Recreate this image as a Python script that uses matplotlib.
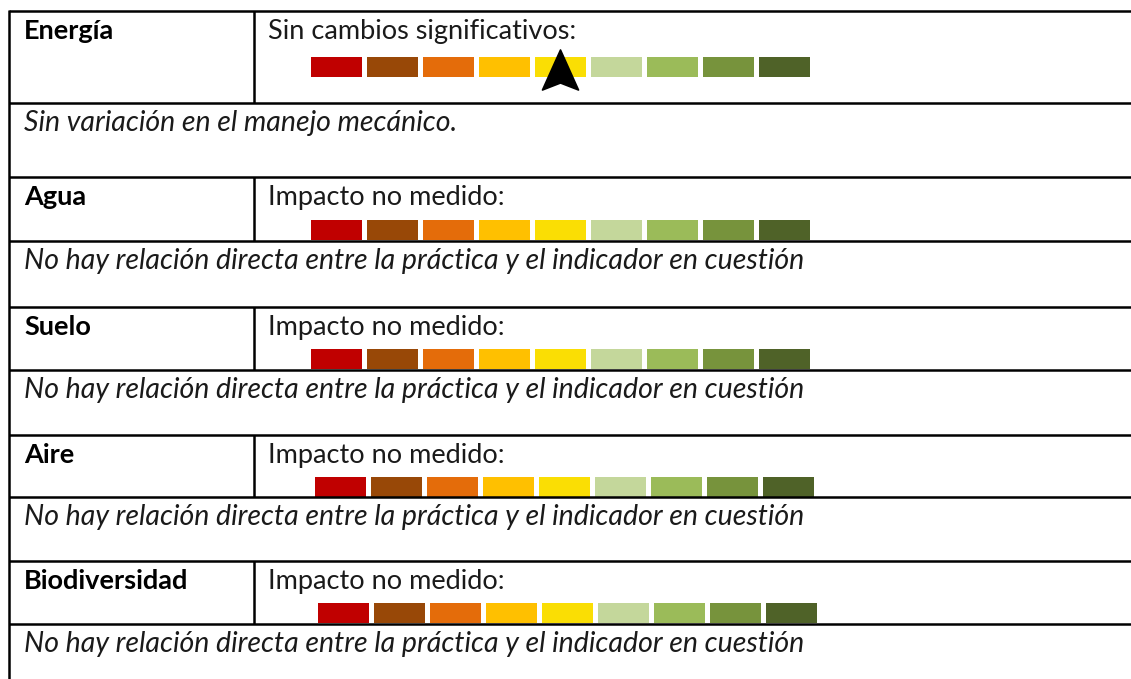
import matplotlib
matplotlib.use("Agg")
import matplotlib.pyplot as plt
from matplotlib.patches import Rectangle, Polygon

# ---------------- data ----------------
indicators = ["Energía", "Agua", "Suelo", "Aire", "Biodiversidad"]
statuses = ["Sin cambios significativos:", "Impacto no medido:", "Impacto no medido:",
            "Impacto no medido:", "Impacto no medido:"]
descriptions = [
    "Sin variación en el manejo mecánico.",
    "No hay relación directa entre la práctica y el indicador en cuestión",
    "No hay relación directa entre la práctica y el indicador en cuestión",
    "No hay relación directa entre la práctica y el indicador en cuestión",
    "No hay relación directa entre la práctica y el indicador en cuestión",
]
scale_colors = ["#C00000", "#984807", "#E46C0A", "#FFC000", "#FADE04",
                "#C4D79B", "#9BBB59", "#77933C", "#4F6228"]
marker_index = [4, None, None, None, None]

# ---------------- layout (pixels) ----------------
W, H = 1131, 679
left_x = 9
div_x = 254
header_top = [11, 177, 307, 435, 561]
header_bot = [103, 241, 370, 497, 624]
bar_top = [57, 220, 349, 477, 603]
bar_x0 = [311, 311, 311, 315, 318]
bar_w, bar_gap, bar_h = 51, 5, 19.5
label_x = 24
status_x = 268
line_lw = 1.8
FONT = "Lato"

fig = plt.figure(figsize=(W / 100, H / 100), dpi=100)
fig.patch.set_facecolor("white")
ax = fig.add_axes([0, 0, 1, 1])
ax.set_xlim(0, W)
ax.set_ylim(H, 0)
ax.axis("off")

renderer = fig.canvas.get_renderer()


def fit_size(text, target, **kw):
    t = ax.text(0, 0, text, fontsize=20, family=FONT, **kw)
    w = t.get_window_extent(renderer).width
    t.remove()
    return 20 * target / w


fs_bold = fit_size("Biodiversidad", 165, fontweight="bold")
fs_reg = fit_size("Sin cambios significativos:", 309)
fs_it = fit_size(descriptions[1], 779, style="italic")

# left border
ax.plot([left_x, left_x], [header_top[0] - 1, H], color="black", lw=line_lw,
        solid_capstyle="butt")

for i, name in enumerate(indicators):
    top, bot = header_top[i], header_bot[i]
    # horizontal lines
    for y in (top, bot):
        ax.plot([left_x, W], [y, y], color="black", lw=line_lw, solid_capstyle="butt")
    # divider
    ax.plot([div_x, div_x], [top, bot], color="black", lw=line_lw, solid_capstyle="butt")
    # texts
    ax.text(label_x, top + 28, name, fontsize=fs_bold, fontweight="bold",
            family=FONT, va="baseline", ha="left", color="black")
    ax.text(status_x, top + 28, statuses[i], fontsize=fs_reg, family=FONT,
            va="baseline", ha="left", color="#1a1a1a")
    ax.text(label_x, bot + 28, descriptions[i], fontsize=fs_it, style="italic",
            family=FONT, va="baseline", ha="left", color="#1a1a1a")
    # color scale
    for k, c in enumerate(scale_colors):
        x = bar_x0[i] + k * (bar_w + bar_gap)
        ax.add_patch(Rectangle((x, bar_top[i]), bar_w, bar_h, facecolor=c,
                               edgecolor="none"))
    # marker arrow
    mi = marker_index[i]
    if mi is not None:
        cx = bar_x0[i] + mi * (bar_w + bar_gap) + bar_w / 2
        ty = bar_top[i] - 7
        shape = [(0, 0), (-18, 40), (0, 33), (18, 40)]
        ax.add_patch(Polygon([(cx + dx, ty + dy) for dx, dy in shape], closed=True,
                             facecolor="black", edgecolor="black", lw=1.2,
                             joinstyle="round", zorder=5))

fig.savefig("out.png", dpi=100, facecolor="white")
